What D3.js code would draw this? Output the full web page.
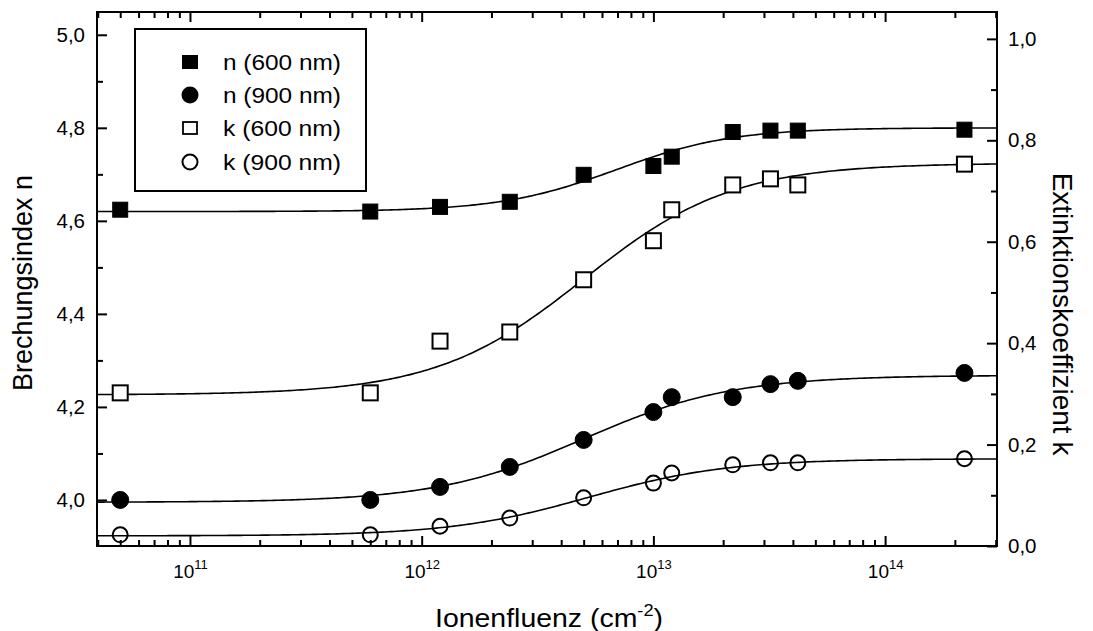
<!DOCTYPE html>
<html>
<head>
<meta charset="utf-8">
<script src="https://cdn.jsdelivr.net/npm/d3@7"></script>
<style>
  html, body { margin: 0; padding: 0; background: #fff; }
  svg { display: block; font-family: "Liberation Sans", Arial, Helvetica, sans-serif; }
</style>
</head>
<body>
<svg id="chart" width="1093" height="631"></svg>
<script>
// Ion fluence (cm^-2) of the measured samples
const fluence = [5e10, 6e11, 1.2e12, 2.4e12, 5e12, 1e13, 1.2e13, 2.2e13, 3.2e13, 4.2e13, 2.2e14];

// Refractive index n (left axis)
const n600 = [4.624, 4.620, 4.630, 4.641, 4.699, 4.718, 4.738, 4.791, 4.794, 4.794, 4.796];
const n900 = [4.000, 4.000, 4.028, 4.071, 4.129, 4.189, 4.221, 4.221, 4.249, 4.256, 4.273];

// Extinction coefficient k (right axis)
const k600 = [0.302, 0.302, 0.404, 0.422, 0.525, 0.602, 0.663, 0.712, 0.724, 0.712, 0.753];
const k900 = [0.022, 0.022, 0.039, 0.055, 0.095, 0.124, 0.144, 0.160, 0.164, 0.164, 0.172];

// Boltzmann fit parameters: [lower plateau, upper plateau, centre (log10 fluence), width (decades)]
const fitN600 = [4.620, 4.800, 12.84, 0.25];
const fitN900 = [3.995, 4.268, 12.70, 0.32];
const fitK600 = [0.298, 0.755, 12.70, 0.32];
const fitK900 = [0.020, 0.172, 12.72, 0.30];

const legendLabels = ["n (600 nm)", "n (900 nm)", "k (600 nm)", "k (900 nm)"];

// Axis ticks
const xMajorExp = [11, 12, 13, 14];
const nMajorTicks = [4.0, 4.2, 4.4, 4.6, 4.8, 5.0];
const nMinorTicks = [4.1, 4.3, 4.5, 4.7, 4.9];
const kMajorTicks = [0.0, 0.2, 0.4, 0.6, 0.8, 1.0];
const kMinorTicks = [0.1, 0.3, 0.5, 0.7, 0.9];

const svg = d3.select("#chart");
const plot = { left: 97, right: 997, top: 12, bottom: 546 };

const x = d3.scaleLog().domain([3.97e10, 3.04e14]).range([plot.left, plot.right]);
const yN = d3.scaleLinear().domain([3.901, 5.049]).range([plot.bottom, plot.top]);
const yK = d3.scaleLinear().domain([0, 1.053]).range([plot.bottom, plot.top]);

const comma = d3.formatLocale({ decimal: ",", thousands: ".", grouping: [3], currency: ["", ""] }).format(".1f");

// Minor log ticks: 2..9 x 10^e inside the domain
const xMinor = [];
for (let e = 10; e <= 14; e++) {
  for (let m = 2; m <= 9; m++) {
    const v = m * Math.pow(10, e);
    if (v > x.domain()[0] && v < x.domain()[1]) xMinor.push(v);
  }
}
const xMajor = xMajorExp.map(e => Math.pow(10, e));

const MAJ = 10, MIN = 6;
function styleAxis(g) {
  g.select(".domain").remove();
  g.selectAll(".tick line").attr("stroke", "#000").attr("stroke-width", 2);
}

// Bottom axis (minor + major with labels)
svg.append("g").attr("transform", `translate(0,${plot.bottom})`)
  .call(d3.axisBottom(x).tickValues(xMinor).tickSizeInner(-MIN).tickSizeOuter(0).tickFormat(""))
  .call(styleAxis);
const bottomMajor = svg.append("g").attr("transform", `translate(0,${plot.bottom})`)
  .call(d3.axisBottom(x).tickValues(xMajor).tickSizeInner(-MAJ).tickSizeOuter(0).tickPadding(19))
  .call(styleAxis);
bottomMajor.selectAll(".tick text").each(function(d) {
  const t = d3.select(this);
  t.text(null).attr("fill", "#000").attr("font-size", 19).attr("dy", "0.71em");
  t.append("tspan").text("10");
  t.append("tspan").attr("font-size", 13).attr("dy", "-0.75em").text(Math.round(Math.log10(d)));
});

// Top axis (ticks only)
svg.append("g").attr("transform", `translate(0,${plot.top})`)
  .call(d3.axisTop(x).tickValues(xMinor).tickSizeInner(-MIN).tickSizeOuter(0).tickFormat(""))
  .call(styleAxis);
svg.append("g").attr("transform", `translate(0,${plot.top})`)
  .call(d3.axisTop(x).tickValues(xMajor).tickSizeInner(-MAJ).tickSizeOuter(0).tickFormat(""))
  .call(styleAxis);

// Left axis (refractive index)
svg.append("g").attr("transform", `translate(${plot.left},0)`)
  .call(d3.axisLeft(yN).tickValues(nMinorTicks).tickSizeInner(-MIN).tickSizeOuter(0).tickFormat(""))
  .call(styleAxis);
svg.append("g").attr("transform", `translate(${plot.left},0)`)
  .call(d3.axisLeft(yN).tickValues(nMajorTicks).tickSizeInner(-MAJ).tickSizeOuter(0).tickPadding(12).tickFormat(comma))
  .call(styleAxis)
  .call(g => g.selectAll(".tick text").attr("fill", "#000").attr("font-size", 20.5));

// Right axis (extinction coefficient)
svg.append("g").attr("transform", `translate(${plot.right},0)`)
  .call(d3.axisRight(yK).tickValues(kMinorTicks).tickSizeInner(-MIN).tickSizeOuter(0).tickFormat(""))
  .call(styleAxis);
svg.append("g").attr("transform", `translate(${plot.right},0)`)
  .call(d3.axisRight(yK).tickValues(kMajorTicks).tickSizeInner(-MAJ).tickSizeOuter(0).tickPadding(11).tickFormat(comma))
  .call(styleAxis)
  .call(g => g.selectAll(".tick text").attr("fill", "#000").attr("font-size", 20.5));

// Frame
svg.append("rect")
  .attr("x", plot.left).attr("y", plot.top)
  .attr("width", plot.right - plot.left).attr("height", plot.bottom - plot.top)
  .attr("fill", "none").attr("stroke", "#000").attr("stroke-width", 2);

// Fit curves (Boltzmann in log fluence)
svg.append("clipPath").attr("id", "plotClip").append("rect")
  .attr("x", plot.left).attr("y", plot.top)
  .attr("width", plot.right - plot.left).attr("height", plot.bottom - plot.top);
const logDom = x.domain().map(Math.log10);
const samples = d3.range(0, 301).map(i => logDom[0] + (logDom[1] - logDom[0]) * i / 300);
function boltzmann(p, t) { return p[1] + (p[0] - p[1]) / (1 + Math.exp((t - p[2]) / p[3])); }
const curves = [[fitN600, yN], [fitN900, yN], [fitK600, yK], [fitK900, yK]];
const gCurves = svg.append("g").attr("clip-path", "url(#plotClip)");
curves.forEach(([p, ys]) => {
  gCurves.append("path")
    .datum(samples)
    .attr("fill", "none").attr("stroke", "#000").attr("stroke-width", 1.6)
    .attr("d", d3.line().x(t => x(Math.pow(10, t))).y(t => ys(boltzmann(p, t))));
});

// Markers
const SQ = 15, R = 8.5;
function squares(vals, ys, filled) {
  svg.append("g").selectAll("rect").data(vals).join("rect")
    .attr("x", (v, i) => x(fluence[i]) - SQ / 2).attr("y", v => ys(v) - SQ / 2)
    .attr("width", SQ).attr("height", SQ)
    .attr("fill", filled ? "#000" : "#fff").attr("stroke", "#000").attr("stroke-width", filled ? 1 : 2);
}
function circles(vals, ys, filled) {
  svg.append("g").selectAll("circle").data(vals).join("circle")
    .attr("cx", (v, i) => x(fluence[i])).attr("cy", v => ys(v))
    .attr("r", filled ? R : R - 1)
    .attr("fill", filled ? "#000" : "none").attr("stroke", "#000").attr("stroke-width", filled ? 1 : 2);
}
squares(k600, yK, false);
circles(k900, yK, false);
squares(n600, yN, true);
circles(n900, yN, true);

// Legend
const lg = svg.append("g");
lg.append("rect").attr("x", 135).attr("y", 29).attr("width", 231).attr("height", 162)
  .attr("fill", "#fff").attr("stroke", "#000").attr("stroke-width", 2);
const rowY = [62, 95, 128, 162];
const symX = 190;
legendLabels.forEach((label, i) => {
  const cy = rowY[i];
  if (i === 0) lg.append("rect").attr("x", symX - 8).attr("y", cy - 7).attr("width", 16).attr("height", 14).attr("fill", "#000");
  if (i === 1) lg.append("circle").attr("cx", symX).attr("cy", cy).attr("r", 8.5).attr("fill", "#000");
  if (i === 2) lg.append("rect").attr("x", symX - 7).attr("y", cy - 6).attr("width", 14).attr("height", 12).attr("fill", "#fff").attr("stroke", "#000").attr("stroke-width", 1.8);
  if (i === 3) lg.append("circle").attr("cx", symX).attr("cy", cy).attr("r", 7.5).attr("fill", "none").attr("stroke", "#000").attr("stroke-width", 2);
  lg.append("text").attr("x", 223).attr("y", cy + 8).attr("font-size", 22)
    .attr("textLength", 118).attr("lengthAdjust", "spacingAndGlyphs").text(label);
});

// Axis titles
const xt = svg.append("text").attr("x", 549).attr("y", 627).attr("text-anchor", "middle")
  .attr("font-size", 25).attr("textLength", 228).attr("lengthAdjust", "spacingAndGlyphs");
xt.append("tspan").text("Ionenfluenz (cm");
xt.append("tspan").attr("font-size", 16).attr("dy", "-0.7em").text("-2");
xt.append("tspan").attr("dy", "0.45em").text(")");

svg.append("text").attr("transform", "translate(32,283) rotate(-90)")
  .attr("text-anchor", "middle").attr("font-size", 27).text("Brechungsindex n");
svg.append("text").attr("transform", "translate(1053,314) rotate(90)")
  .attr("text-anchor", "middle").attr("font-size", 28).text("Extinktionskoeffizient k");
</script>
</body>
</html>
